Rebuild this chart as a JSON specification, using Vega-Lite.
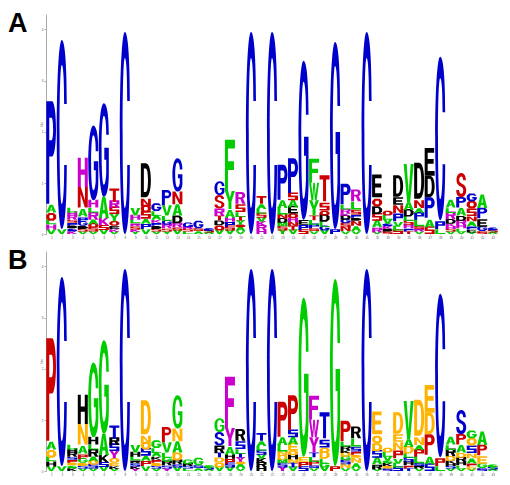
{"$schema":"https://vega.github.io/schema/vega-lite/v6.json","padding":{"left":8,"top":10,"right":0,"bottom":0},"background":"white","spacing":8,
"resolve":{"scale":{"color":"independent"}},
"data":{"values":[
{"p":1,"l":"V","b":0.09},{"p":1,"l":"H","b":0.1},{"p":1,"l":"L","b":0.07},{"p":1,"l":"Q","b":0.16},{"p":1,"l":"A","b":0.17},{"p":1,"l":"P","b":2},
{"p":2,"l":"V","b":0.1},{"p":2,"l":"C","b":3.69},
{"p":3,"l":"K","b":0.05},{"p":3,"l":"G","b":0.06},{"p":3,"l":"D","b":0.05},{"p":3,"l":"P","b":0.06},{"p":3,"l":"S","b":0.06},{"p":3,"l":"R","b":0.07},{"p":3,"l":"H","b":0.07},{"p":3,"l":"L","b":0.09},
{"p":4,"l":"V","b":0.05},{"p":4,"l":"S","b":0.05},{"p":4,"l":"D","b":0.06},{"p":4,"l":"G","b":0.07},{"p":4,"l":"P","b":0.11},{"p":4,"l":"A","b":0.18},{"p":4,"l":"N","b":0.4},{"p":4,"l":"H","b":0.57},
{"p":5,"l":"V","b":0.05},{"p":5,"l":"S","b":0.07},{"p":5,"l":"Q","b":0.07},{"p":5,"l":"A","b":0.09},{"p":5,"l":"R","b":0.14},{"p":5,"l":"L","b":0.1},{"p":5,"l":"H","b":0.14},{"p":5,"l":"G","b":1.46},
{"p":6,"l":"V","b":0.08},{"p":6,"l":"S","b":0.09},{"p":6,"l":"K","b":0.14},{"p":6,"l":"A","b":0.42},{"p":6,"l":"G","b":1.82},
{"p":7,"l":"V","b":0.04},{"p":7,"l":"K","b":0.06},{"p":7,"l":"E","b":0.06},{"p":7,"l":"Q","b":0.09},{"p":7,"l":"Y","b":0.14},{"p":7,"l":"S","b":0.12},{"p":7,"l":"R","b":0.12},{"p":7,"l":"T","b":0.26},
{"p":8,"l":"C","b":3.95},
{"p":9,"l":"Y","b":0.04},{"p":9,"l":"K","b":0.05},{"p":9,"l":"S","b":0.06},{"p":9,"l":"R","b":0.06},{"p":9,"l":"L","b":0.07},{"p":9,"l":"H","b":0.08},{"p":9,"l":"V","b":0.12},
{"p":10,"l":"V","b":0.1},{"p":10,"l":"P","b":0.1},{"p":10,"l":"A","b":0.1},{"p":10,"l":"S","b":0.12},{"p":10,"l":"Q","b":0.12},{"p":10,"l":"N","b":0.18},{"p":10,"l":"D","b":0.66},
{"p":11,"l":"V","b":0.05},{"p":11,"l":"S","b":0.05},{"p":11,"l":"D","b":0.06},{"p":11,"l":"P","b":0.06},{"p":11,"l":"K","b":0.06},{"p":11,"l":"A","b":0.07},{"p":11,"l":"L","b":0.1},{"p":11,"l":"G","b":0.14},
{"p":12,"l":"Y","b":0.05},{"p":12,"l":"S","b":0.06},{"p":12,"l":"R","b":0.07},{"p":12,"l":"G","b":0.08},{"p":12,"l":"L","b":0.1},{"p":12,"l":"V","b":0.2},{"p":12,"l":"P","b":0.3},
{"p":13,"l":"V","b":0.07},{"p":13,"l":"S","b":0.06},{"p":13,"l":"R","b":0.08},{"p":13,"l":"D","b":0.15},{"p":13,"l":"A","b":0.22},{"p":13,"l":"N","b":0.25},{"p":13,"l":"G","b":0.65},
{"p":14,"l":"L","b":0.05},{"p":14,"l":"S","b":0.05},{"p":14,"l":"R","b":0.03},{"p":14,"l":"G","b":0.1},
{"p":15,"l":"A","b":0.06},{"p":15,"l":"S","b":0.05},{"p":15,"l":"G","b":0.12},
{"p":16,"l":"A","b":0.03},{"p":16,"l":"S","b":0.03},{"p":16,"l":"G","b":0.04},
{"p":17,"l":"V","b":0.07},{"p":17,"l":"Q","b":0.1},{"p":17,"l":"D","b":0.1},{"p":17,"l":"T","b":0.08},{"p":17,"l":"R","b":0.15},{"p":17,"l":"S","b":0.26},{"p":17,"l":"G","b":0.27},
{"p":18,"l":"V","b":0.07},{"p":18,"l":"S","b":0.07},{"p":18,"l":"P","b":0.1},{"p":18,"l":"H","b":0.08},{"p":18,"l":"A","b":0.17},{"p":18,"l":"Y","b":0.35},{"p":18,"l":"F","b":1},
{"p":19,"l":"V","b":0.06},{"p":19,"l":"A","b":0.07},{"p":19,"l":"Q","b":0.05},{"p":19,"l":"Y","b":0.08},{"p":19,"l":"T","b":0.07},{"p":19,"l":"L","b":0.1},{"p":19,"l":"S","b":0.16},{"p":19,"l":"R","b":0.23},
{"p":20,"l":"C","b":3.95},
{"p":21,"l":"H","b":0.08},{"p":21,"l":"R","b":0.08},{"p":21,"l":"K","b":0.08},{"p":21,"l":"V","b":0.08},{"p":21,"l":"S","b":0.08},{"p":21,"l":"L","b":0.09},{"p":21,"l":"A","b":0.1},{"p":21,"l":"T","b":0.16},
{"p":22,"l":"C","b":3.95},
{"p":23,"l":"Y","b":0.07},{"p":23,"l":"S","b":0.08},{"p":23,"l":"M","b":0.07},{"p":23,"l":"D","b":0.08},{"p":23,"l":"N","b":0.08},{"p":23,"l":"L","b":0.13},{"p":23,"l":"A","b":0.16},{"p":23,"l":"P","b":0.68},
{"p":24,"l":"V","b":0.07},{"p":24,"l":"T","b":0.08},{"p":24,"l":"N","b":0.08},{"p":24,"l":"H","b":0.08},{"p":24,"l":"Q","b":0.09},{"p":24,"l":"E","b":0.12},{"p":24,"l":"A","b":0.14},{"p":24,"l":"S","b":0.14},{"p":24,"l":"P","b":0.68},
{"p":25,"l":"S","b":0.08},{"p":25,"l":"P","b":0.1},{"p":25,"l":"E","b":0.1},{"p":25,"l":"G","b":3.1},
{"p":26,"l":"V","b":0.06},{"p":26,"l":"S","b":0.05},{"p":26,"l":"P","b":0.07},{"p":26,"l":"L","b":0.09},{"p":26,"l":"T","b":0.09},{"p":26,"l":"Y","b":0.3},{"p":26,"l":"W","b":0.34},{"p":26,"l":"F","b":0.47},
{"p":27,"l":"V","b":0.07},{"p":27,"l":"G","b":0.07},{"p":27,"l":"L","b":0.1},{"p":27,"l":"D","b":0.12},{"p":27,"l":"Q","b":0.1},{"p":27,"l":"S","b":0.18},{"p":27,"l":"T","b":0.51},
{"p":28,"l":"P","b":0.1},{"p":28,"l":"G","b":3.65},
{"p":29,"l":"V","b":0.06},{"p":29,"l":"N","b":0.07},{"p":29,"l":"S","b":0.08},{"p":29,"l":"G","b":0.07},{"p":29,"l":"D","b":0.07},{"p":29,"l":"K","b":0.05},{"p":29,"l":"R","b":0.08},{"p":29,"l":"L","b":0.1},{"p":29,"l":"P","b":0.4},
{"p":30,"l":"V","b":0.06},{"p":30,"l":"A","b":0.1},{"p":30,"l":"N","b":0.1},{"p":30,"l":"D","b":0.06},{"p":30,"l":"P","b":0.06},{"p":30,"l":"S","b":0.1},{"p":30,"l":"L","b":0.16},{"p":30,"l":"R","b":0.23},
{"p":31,"l":"C","b":3.95},
{"p":32,"l":"V","b":0.03},{"p":32,"l":"R","b":0.1},{"p":32,"l":"A","b":0.13},{"p":32,"l":"S","b":0.13},{"p":32,"l":"D","b":0.15},{"p":32,"l":"Q","b":0.18},{"p":32,"l":"E","b":0.44},
{"p":33,"l":"S","b":0.05},{"p":33,"l":"D","b":0.05},{"p":33,"l":"K","b":0.05},{"p":33,"l":"G","b":0.05},{"p":33,"l":"V","b":0.08},{"p":33,"l":"L","b":0.08},{"p":33,"l":"Q","b":0.1},
{"p":34,"l":"S","b":0.07},{"p":34,"l":"L","b":0.07},{"p":34,"l":"V","b":0.11},{"p":34,"l":"P","b":0.16},{"p":34,"l":"N","b":0.16},{"p":34,"l":"E","b":0.16},{"p":34,"l":"D","b":0.42},
{"p":35,"l":"T","b":0.05},{"p":35,"l":"P","b":0.06},{"p":35,"l":"H","b":0.07},{"p":35,"l":"S","b":0.08},{"p":35,"l":"L","b":0.08},{"p":35,"l":"D","b":0.13},{"p":35,"l":"A","b":0.15},{"p":35,"l":"V","b":0.75},
{"p":36,"l":"V","b":0.05},{"p":36,"l":"R","b":0.05},{"p":36,"l":"S","b":0.05},{"p":36,"l":"L","b":0.13},{"p":36,"l":"P","b":0.13},{"p":36,"l":"A","b":0.1},{"p":36,"l":"N","b":0.18},{"p":36,"l":"D","b":0.7},
{"p":37,"l":"S","b":0.13},{"p":37,"l":"A","b":0.19},{"p":37,"l":"P","b":0.4},{"p":37,"l":"D","b":0.42},{"p":37,"l":"E","b":0.54},
{"p":38,"l":"L","b":0.1},{"p":38,"l":"P","b":0.17},{"p":38,"l":"C","b":3.19},
{"p":39,"l":"V","b":0.05},{"p":39,"l":"S","b":0.05},{"p":39,"l":"H","b":0.05},{"p":39,"l":"K","b":0.05},{"p":39,"l":"D","b":0.09},{"p":39,"l":"R","b":0.12},{"p":39,"l":"L","b":0.11},{"p":39,"l":"A","b":0.17},
{"p":40,"l":"V","b":0.05},{"p":40,"l":"L","b":0.06},{"p":40,"l":"H","b":0.07},{"p":40,"l":"R","b":0.08},{"p":40,"l":"D","b":0.1},{"p":40,"l":"A","b":0.16},{"p":40,"l":"P","b":0.2},{"p":40,"l":"S","b":0.47},
{"p":41,"l":"V","b":0.03},{"p":41,"l":"E","b":0.06},{"p":41,"l":"P","b":0.06},{"p":41,"l":"A","b":0.1},{"p":41,"l":"N","b":0.1},{"p":41,"l":"S","b":0.15},{"p":41,"l":"Q","b":0.14},{"p":41,"l":"G","b":0.16},
{"p":42,"l":"S","b":0.06},{"p":42,"l":"G","b":0.08},{"p":42,"l":"E","b":0.17},{"p":42,"l":"P","b":0.2},{"p":42,"l":"A","b":0.26},
{"p":43,"l":"A","b":0.03},{"p":43,"l":"S","b":0.04},{"p":43,"l":"G","b":0.05}
]},
"transform":[{"stack":"b","groupby":["p"],"as":["y0","y1"]},{"calculate":"datum.b>=0.2?datum.l+datum.b:datum.l+(datum.b<0.065?'s':datum.b<0.115?'m':'l')","as":"k"}],
"vconcat":[
{"title":{"text":"A","anchor":"start","frame":"group","offset":-24,"dx":-38,"fontSize":27,"fontWeight":"bold","font":"Liberation Sans","color":"#000"},
"width":452,"height":220,
"mark":{"type":"point","filled":true,"size":4,"strokeWidth":0,"opacity":1},
"encoding":{"x":{"field":"p","type":"ordinal","title":null,"axis":{"labelFontSize":3,"labelAngle":0,"labelColor":"#555","labelPadding":1,"tickSize":1,"tickColor":"#bbb","domain":false,"maxExtent":0,"minExtent":0}},
"y":{"field":"y0","type":"quantitative","scale":{"domain":[0,4.3],"nice":false},"title":"bits","axis":{"values":[0,1,2,3,4],"labelFontSize":3,"labelColor":"#555","labelPadding":1,"tickSize":2,"tickColor":"#aaa","domainColor":"#aaa","domainWidth":1,"grid":false,"titleFontSize":3,"titleFontWeight":"normal","titleColor":"#555","titlePadding":3,"maxExtent":0,"minExtent":0}},
"color":{"field":"l","type":"nominal","legend":null,"scale":{"domain":["A","C","D","E","F","G","H","K","L","M","N","P","Q","R","S","T","V","W","Y"],"range":["#00CC00","#0000CC","#000000","#000000","#00CC00","#0000CC","#CC00CC","#CC00CC","#00CC00","#00CC00","#CC0000","#0000CC","#CC0000","#CC00CC","#CC0000","#CC0000","#00CC00","#00CC00","#00CC00"]}},
"shape":{"field":"k","type":"nominal","legend":null,"scale":{"domain":["C3.69","C3.95","C3.19","P2","P0.3","P0.68","P0.4","P0.2","H0.57","N0.4","N0.25","G1.46","G1.82","G0.65","G0.27","G3.1","G3.65","A0.42","A0.22","A0.26","T0.26","T0.51","D0.66","D0.42","D0.7","V0.2","V0.75","F1","F0.47","S0.26","S0.47","Y0.35","Y0.3","R0.23","W0.34","E0.44","E0.54","Vs","Vm","Vl","Hs","Hm","Hl","Ls","Lm","Ll","Qs","Qm","Ql","As","Am","Al","Ks","Km","Kl","Gs","Gm","Gl","Ds","Dm","Dl","Ps","Pm","Pl","Ss","Sm","Sl","Rs","Rm","Rl","Ns","Nm","Nl","Ts","Tm","Tl","Ys","Ym","Yl","Es","Em","El","Ms","Mm","Ml"]}}}},
{"title":{"text":"B","anchor":"start","frame":"group","offset":-24,"dx":-38,"fontSize":27,"fontWeight":"bold","font":"Liberation Sans","color":"#000"},
"width":452,"height":220,
"mark":{"type":"point","filled":true,"size":4,"strokeWidth":0,"opacity":1},
"encoding":{"x":{"field":"p","type":"ordinal","title":null,"axis":{"labelFontSize":3,"labelAngle":0,"labelColor":"#555","labelPadding":1,"tickSize":1,"tickColor":"#bbb","domain":false,"maxExtent":0,"minExtent":0}},
"y":{"field":"y0","type":"quantitative","scale":{"domain":[0,4.3],"nice":false},"title":"bits","axis":{"values":[0,1,2,3,4],"labelFontSize":3,"labelColor":"#555","labelPadding":1,"tickSize":2,"tickColor":"#aaa","domainColor":"#aaa","domainWidth":1,"grid":false,"titleFontSize":3,"titleFontWeight":"normal","titleColor":"#555","titlePadding":3,"maxExtent":0,"minExtent":0}},
"color":{"field":"l","type":"nominal","legend":null,"scale":{"domain":["A","C","D","E","F","G","H","K","L","M","N","P","Q","R","S","T","V","W","Y"],"range":["#00CC00","#0000CC","#FFB300","#FFB300","#CC00CC","#00CC00","#000000","#000000","#00CC00","#00CC00","#FFB300","#CC0000","#FFB300","#000000","#0000CC","#0000CC","#00CC00","#CC00CC","#CC00CC"]}},
"shape":{"field":"k","type":"nominal","legend":null,"scale":{"domain":["C3.69","C3.95","C3.19","P2","P0.3","P0.68","P0.4","P0.2","H0.57","N0.4","N0.25","G1.46","G1.82","G0.65","G0.27","G3.1","G3.65","A0.42","A0.22","A0.26","T0.26","T0.51","D0.66","D0.42","D0.7","V0.2","V0.75","F1","F0.47","S0.26","S0.47","Y0.35","Y0.3","R0.23","W0.34","E0.44","E0.54","Vs","Vm","Vl","Hs","Hm","Hl","Ls","Lm","Ll","Qs","Qm","Ql","As","Am","Al","Ks","Km","Kl","Gs","Gm","Gl","Ds","Dm","Dl","Ps","Pm","Pl","Ss","Sm","Sl","Rs","Rm","Rl","Ns","Nm","Nl","Ts","Tm","Tl","Ys","Ym","Yl","Es","Em","El","Ms","Mm","Ml"]}}}}
],
"config":{"view":{"stroke":null},"range":{"symbol":[
"M5 -125C5 -166 3 -189 0 -189C-3 -189 -5 -147 -5 -94.5C-5 -42 -3 0 0 0C3 0 5 -23 5 -64L2.4 -64C2.4 -38 1.4 -25 0 -25C-1.4 -25 -2.2 -53 -2.2 -94.5C-2.2 -136 -1.4 -164 0 -164C1.4 -164 2.4 -151 2.4 -125Z",
"M5 -133C5 -178 3 -202 0 -202C-3 -202 -5 -158 -5 -101C-5 -44 -3 0 0 0C3 0 5 -24 5 -69L2.4 -69C2.4 -40 1.4 -26 0 -26C-1.4 -26 -2.2 -57 -2.2 -101C-2.2 -145 -1.4 -176 0 -176C1.4 -176 2.4 -162 2.4 -133Z",
"M5 -108C5 -144 3 -163.5 0 -163.5C-3 -163.5 -5 -128 -5 -82C-5 -36 -3 0 0 0C3 0 5 -20 5 -56L2.4 -56C2.4 -33 1.4 -21 0 -21C-1.4 -21 -2.2 -46 -2.2 -82C-2.2 -118 -1.4 -142 0 -142C1.4 -142 2.4 -131 2.4 -108Z",
"M-5 0L-5 -102.5L1 -102.5A4 27.7 0 0 1 1 -47.2L-2 -47.2L-2 0ZM-2 -86.1L-2 -63.6L0.5 -63.6A1.5 11.3 0 0 0 0.5 -86.1Z",
"M-5 0L-5 -15.4L1 -15.4A4 4.2 0 0 1 1 -7.1L-2 -7.1L-2 0ZM-2 -12.9L-2 -9.5L0.5 -9.5A1.5 1.7 0 0 0 0.5 -12.9Z",
"M-5 0L-5 -34.9L1 -34.9A4 9.4 0 0 1 1 -16.1L-2 -16.1L-2 0ZM-2 -29.3L-2 -21.6L0.5 -21.6A1.5 3.8 0 0 0 0.5 -29.3Z",
"M-5 0L-5 -20.5L1 -20.5A4 5.5 0 0 1 1 -9.4L-2 -9.4L-2 0ZM-2 -17.2L-2 -12.7L0.5 -12.7A1.5 2.3 0 0 0 0.5 -17.2Z",
"M-5 0L-5 -10.3L1 -10.3A4 2.8 0 0 1 1 -4.7L-2 -4.7L-2 0ZM-2 -8.7L-2 -6.4L0.5 -6.4A1.5 1.1 0 0 0 0.5 -8.7Z",
"M-5 0L-5 -29.2L-2 -29.2L-2 -17.5L2 -17.5L2 -29.2L5 -29.2L5 0L2 0L2 -12.3L-2 -12.3L-2 0Z",
"M-5 0L-5 -20.5L-2 -20.5L2.2 -7.2L2.2 -20.5L5 -20.5L5 0L2 0L-2.2 -13.3L-2.2 0Z",
"M-5 0L-5 -12.8L-2 -12.8L2.2 -4.5L2.2 -12.8L5 -12.8L5 0L2 0L-2.2 -8.3L-2.2 0Z",
"M5 -49C5 -66 3 -74.8 0 -74.8C-3 -74.8 -5 -58 -5 -37C-5 -16 -3 0 0 0C3 0 5 -7.5 5 -19L5 -39L0.5 -39L0.5 -30L2.4 -30L2.4 -19C1.8 -12 1 -10 0 -10C-1.4 -10 -2.2 -21 -2.2 -37C-2.2 -54 -1.4 -65 0 -65C1.4 -65 2.4 -60 2.4 -49Z",
"M5 -62C5 -82 3 -93.3 0 -93.3C-3 -93.3 -5 -73 -5 -47C-5 -21 -3 0 0 0C3 0 5 -9 5 -23L5 -49L0.5 -49L0.5 -37L2.4 -37L2.4 -23C1.8 -15 1 -12 0 -12C-1.4 -12 -2.2 -26 -2.2 -47C-2.2 -67 -1.4 -81 0 -81C1.4 -81 2.4 -75 2.4 -62Z",
"M5 -22C5 -29 3 -33.3 0 -33.3C-3 -33.3 -5 -26 -5 -17C-5 -7.3 -3 0 0 0C3 0 5 -3.3 5 -8.3L5 -17.3L0.5 -17.3L0.5 -13.3L2.4 -13.3L2.4 -8.3C1.8 -5.3 1 -4.3 0 -4.3C-1.4 -4.3 -2.2 -9.3 -2.2 -17C-2.2 -24 -1.4 -29 0 -29C1.4 -29 2.4 -26.6 2.4 -22Z",
"M5 -9.1C5 -12.1 3 -13.8 0 -13.8C-3 -13.8 -5 -10.8 -5 -6.9C-5 -3 -3 0 0 0C3 0 5 -1.4 5 -3.5L5 -7.2L0.5 -7.2L0.5 -5.5L2.4 -5.5L2.4 -3.5C1.8 -2.2 1 -1.8 0 -1.8C-1.4 -1.8 -2.2 -3.9 -2.2 -6.9C-2.2 -9.9 -1.4 -12 0 -12C1.4 -12 2.4 -11 2.4 -9.1Z",
"M5 -105C5 -140 3 -158.9 0 -158.9C-3 -158.9 -5 -124 -5 -79C-5 -35 -3 0 0 0C3 0 5 -16 5 -40L5 -83L0.5 -83L0.5 -64L2.4 -64L2.4 -40C1.8 -25 1 -21 0 -21C-1.4 -21 -2.2 -44 -2.2 -79C-2.2 -114 -1.4 -138 0 -138C1.4 -138 2.4 -127 2.4 -105Z",
"M5 -123C5 -165 3 -187 0 -187C-3 -187 -5 -146 -5 -94C-5 -41 -3 0 0 0C3 0 5 -19 5 -47L5 -97L0.5 -97L0.5 -75L2.4 -75L2.4 -47C1.8 -30 1 -24 0 -24C-1.4 -24 -2.2 -52 -2.2 -94C-2.2 -135 -1.4 -163 0 -163C1.4 -163 2.4 -150 2.4 -123Z",
"M-5 0L-1.6 -21.5L1.6 -21.5L5 0L2 0L1.3 -4.7L-1.3 -4.7L-2 0ZM0 -16.8L-0.8 -8.2L0.8 -8.2Z",
"M-5 0L-1.6 -11.3L1.6 -11.3L5 0L2 0L1.3 -2.5L-1.3 -2.5L-2 0ZM0 -8.8L-0.8 -4.3L0.8 -4.3Z",
"M-5 0L-1.6 -13.3L1.6 -13.3L5 0L2 0L1.3 -2.9L-1.3 -2.9L-2 0ZM0 -10.4L-0.8 -5.1L0.8 -5.1Z",
"M-1.5 0L-1.5 -11L-5 -11L-5 -13.3L5 -13.3L5 -11L1.5 -11L1.5 0Z",
"M-1.5 0L-1.5 -21.7L-5 -21.7L-5 -26.1L5 -26.1L5 -21.7L1.5 -21.7L1.5 0Z",
"M-5 0L-5 -33.8L0 -33.8C3.5 -33.8 5 -25.4 5 -16.9C5 -8.5 3.5 0 0 0ZM-2 -28.7L-2 -5.1L-0.2 -5.1C1.4 -5.1 2.1 -10.1 2.1 -16.9C2.1 -23.7 1.4 -28.7 -0.2 -28.7Z",
"M-5 0L-5 -21.5L0 -21.5C3.5 -21.5 5 -16.1 5 -10.8C5 -5.4 3.5 0 0 0ZM-2 -18.3L-2 -3.2L-0.2 -3.2C1.4 -3.2 2.1 -6.5 2.1 -10.8C2.1 -15.1 1.4 -18.3 -0.2 -18.3Z",
"M-5 0L-5 -35.9L0 -35.9C3.5 -35.9 5 -27 5 -18C5 -9 3.5 0 0 0ZM-2 -30.5L-2 -5.4L-0.2 -5.4C1.4 -5.4 2.1 -10.8 2.1 -18C2.1 -25.1 1.4 -30.5 -0.2 -30.5Z",
"M-1.5 0L-5 -10.3L-2 -10.3L0 -2.6L2 -10.3L5 -10.3L1.5 0Z",
"M-1.5 0L-5 -38.4L-2 -38.4L0 -9.6L2 -38.4L5 -38.4L1.5 0Z",
"M-5 0L-5 -51.25L5 -51.25L5 -42.5L-2 -42.5L-2 -29.7L4 -29.7L4 -21L-2 -21L-2 0Z",
"M-5 0L-5 -24.1L5 -24.1L5 -20L-2 -20L-2 -14L4 -14L4 -9.9L-2 -9.9L-2 0Z",
"M4.7 -9.3C4.7 -12 2.5 -13.3 0 -13.3C-3 -13.3 -4.7 -11.6 -4.7 -9.6C-4.7 -7.3 -3 -6.5 0 -5.7C1.5 -5.3 2 -4.8 2 -3.7C2 -2.4 1 -1.9 0 -1.9C-1.2 -1.9 -2 -2.7 -2.1 -4L-5 -4C-5 -1.3 -3 0 0 0C3 0 5 -1.6 5 -3.9C5 -6.1 3 -6.9 0 -7.7C-1.4 -8.1 -2 -8.5 -2 -9.6C-2 -10.8 -1 -11.4 0 -11.4C1.2 -11.4 1.9 -10.6 2 -9.3Z",
"M4.7 -16.9C4.7 -21.7 2.5 -24.1 0 -24.1C-3 -24.1 -4.7 -21 -4.7 -17.4C-4.7 -13.3 -3 -11.8 0 -10.4C1.5 -9.6 2 -8.7 2 -6.7C2 -4.3 1 -3.4 0 -3.4C-1.2 -3.4 -2 -4.8 -2.1 -7.2L-5 -7.2C-5 -2.4 -3 0 0 0C3 0 5 -2.9 5 -7C5 -11.1 3 -12.5 0 -14C-1.4 -14.7 -2 -15.4 -2 -17.4C-2 -19.5 -1 -20.7 0 -20.7C1.2 -20.7 1.9 -19.3 2 -16.9Z",
"M-1.5 0L-1.5 -7.5L-5 -17.9L-1.8 -17.9L0 -11.1L1.8 -17.9L5 -17.9L1.5 -7.5L1.5 0Z",
"M-1.5 0L-1.5 -6.5L-5 -15.4L-1.8 -15.4L0 -9.5L1.8 -15.4L5 -15.4L1.5 -6.5L1.5 0Z",
"M-5 0L-5 -11.8L1 -11.8C3.5 -11.8 4.7 -10 4.7 -8.3C4.7 -6.5 3.5 -5.5 2.5 -5.2L5 0L1.8 0L-0.2 -4.7L-2 -4.7L-2 0ZM-2 -9.9L-2 -6.6L0.5 -6.6C1.4 -6.6 1.8 -7.3 1.8 -8.3C1.8 -9.2 1.4 -9.9 0.5 -9.9Z",
"M-2.6 0L-5 -17.4L-3 -17.4L-1.5 -5.2L-0.8 -17.4L0.8 -17.4L1.5 -5.2L3 -17.4L5 -17.4L2.6 0L0.8 0L0 -12.2L-0.8 0Z",
"M-5 0L-5 -22.6L4.5 -22.6L4.5 -18.8L-2 -18.8L-2 -13.6L4 -13.6L4 -9.7L-2 -9.7L-2 -3.8L5 -3.8L5 0Z",
"M-5 0L-5 -27.7L4.5 -27.7L4.5 -23L-2 -23L-2 -16.6L4 -16.6L4 -11.9L-2 -11.9L-2 -4.7L5 -4.7L5 0Z",
"M-1.5 0L-5 -2.8L-2 -2.8L0 -0.84L2 -2.8L5 -2.8L1.5 0Z",
"M-1.5 0L-5 -4.8L-2 -4.8L0 -1.44L2 -4.8L5 -4.8L1.5 0Z",
"M-1.5 0L-5 -7.7L-2 -7.7L0 -2.3L2 -7.7L5 -7.7L1.5 0Z",
"M-5 0L-5 -2.8L-2 -2.8L-2 -1.68L2 -1.68L2 -2.8L5 -2.8L5 0L2 0L2 -1.12L-2 -1.12L-2 0Z",
"M-5 0L-5 -4.8L-2 -4.8L-2 -2.88L2 -2.88L2 -4.8L5 -4.8L5 0L2 0L2 -1.92L-2 -1.92L-2 0Z",
"M-5 0L-5 -7.7L-2 -7.7L-2 -4.62L2 -4.62L2 -7.7L5 -7.7L5 0L2 0L2 -3.08L-2 -3.08L-2 0Z",
"M-5 0L-5 -2.8L-2 -2.8L-2 -0.56L5 -0.56L5 0Z",
"M-5 0L-5 -4.8L-2 -4.8L-2 -0.96L5 -0.96L5 0Z",
"M-5 0L-5 -7.7L-2 -7.7L-2 -1.54L5 -1.54L5 0Z",
"M-2.5 -2.8L2.5 -2.8L5 -1.96L5 -0.84L2.5 0L-2.5 0L-5 -0.84L-5 -1.96Z",
"M-2.5 -4.8L2.5 -4.8L5 -3.36L5 -1.44L2.5 0L-2.5 0L-5 -1.44L-5 -3.36ZM-1.5 -3.5L-2 -2.4L-1.5 -1.3L1.5 -1.3L2 -2.4L1.5 -3.5Z",
"M-2.5 -7.7L2.5 -7.7L5 -5.4L5 -2.3L2.5 0L-2.5 0L-5 -2.3L-5 -5.4ZM-1.5 -5.6L-2 -3.85L-1.5 -2.1L1.5 -2.1L2 -3.85L1.5 -5.6Z",
"M-5 0L-1.6 -2.8L1.6 -2.8L5 0L2 0L1.3 -0.7L-1.3 -0.7L-2 0Z",
"M-5 0L-1.6 -4.8L1.6 -4.8L5 0L2 0L1.3 -1.2L-1.3 -1.2L-2 0Z",
"M-5 0L-1.6 -7.7L1.6 -7.7L5 0L2 0L1.3 -1.9L-1.3 -1.9L-2 0ZM0 -6L-0.8 -3.1L0.8 -3.1Z",
"M-5 0L-5 -2.8L-2 -2.8L-2 -1.68L2 -2.8L5 -2.8L0.5 -1.54L5 0L2 0L-2 -1.12L-2 0Z",
"M-5 0L-5 -4.8L-2 -4.8L-2 -2.88L2 -4.8L5 -4.8L0.5 -2.64L5 0L2 0L-2 -1.92L-2 0Z",
"M-5 0L-5 -7.7L-2 -7.7L-2 -4.62L2 -7.7L5 -7.7L0.5 -4.2L5 0L2 0L-2 -3.08L-2 0Z",
"M5 -1.96L2.5 -2.8L-2.5 -2.8L-5 -1.96L-5 -0.84L-2.5 0L2.5 0L5 -0.84L5 -1.5L0.5 -1.5L0.5 -1.96Z",
"M5 -3.36L2.5 -4.8L-2.5 -4.8L-5 -3.36L-5 -1.44L-2.5 0L2.5 0L5 -1.44L5 -2.64L0.5 -2.64L0.5 -1.68L2 -1.68L2 -1.06L-1.5 -1.06L-2 -1.68L-2 -3.12L-1.5 -3.74L2 -3.74L2.4 -3.36Z",
"M5 -5.4L2.5 -7.7L-2.5 -7.7L-5 -5.4L-5 -2.3L-2.5 0L2.5 0L5 -2.3L5 -4.2L0.5 -4.2L0.5 -2.7L2 -2.7L2 -1.7L-1.5 -1.7L-2 -2.7L-2 -5L-1.5 -6L2 -6L2.4 -5.4Z",
"M-5 0L-5 -2.8L2 -2.8L5 -1.96L5 -0.84L2 0Z",
"M-5 0L-5 -4.8L2 -4.8L5 -3.36L5 -1.44L2 0ZM-2 -3.74L-2 -1.06L1 -1.06L2 -1.92L2 -2.88L1 -3.74Z",
"M-5 0L-5 -7.7L2 -7.7L5 -5.4L5 -2.3L2 0ZM-2 -6L-2 -1.7L1 -1.7L2 -3.08L2 -4.62L1 -6Z",
"M-5 0L-5 -2.8L5 -2.8L5 -1.12L-2 -1.12L-2 0Z",
"M-5 0L-5 -4.8L5 -4.8L5 -1.92L-2 -1.92L-2 0ZM-2 -3.84L-2 -2.88L2 -2.88L2 -3.84Z",
"M-5 0L-5 -7.7L5 -7.7L5 -3.08L-2 -3.08L-2 0ZM-2 -6.16L-2 -4.62L2 -4.62L2 -6.16Z",
"M-5 -2.8L5 -2.8L5 -2.24L-2 -2.24L-2 -1.68L5 -1.68L5 0L-5 0L-5 -0.56L2 -0.56L2 -1.12L-5 -1.12Z",
"M-5 -4.8L5 -4.8L5 -3.84L-2 -3.84L-2 -2.88L5 -2.88L5 0L-5 0L-5 -0.96L2 -0.96L2 -1.92L-5 -1.92Z",
"M-5 -7.7L5 -7.7L5 -6.16L-2 -6.16L-2 -4.62L5 -4.62L5 0L-5 0L-5 -1.54L2 -1.54L2 -3.08L-5 -3.08Z",
"M-5 0L-5 -2.8L5 -2.8L5 -1.26L3 -1.26L5 0L2 0L0 -1.18L-2 -1.18L-2 0Z",
"M-5 0L-5 -4.8L5 -4.8L5 -2.16L3 -2.16L5 0L2 0L0 -2L-2 -2L-2 0ZM-2 -3.84L-2 -2.88L2 -2.88L2 -3.84Z",
"M-5 0L-5 -7.7L5 -7.7L5 -3.5L3 -3.5L5 0L2 0L0 -3.2L-2 -3.2L-2 0ZM-2 -6.16L-2 -4.62L2 -4.62L2 -6.16Z",
"M-5 0L-5 -2.8L-2 -2.8L2.2 -0.98L2.2 -2.8L5 -2.8L5 0L2 0L-2.2 -1.82L-2.2 0Z",
"M-5 0L-5 -4.8L-2 -4.8L2.2 -1.68L2.2 -4.8L5 -4.8L5 0L2 0L-2.2 -3.12L-2.2 0Z",
"M-5 0L-5 -7.7L-2 -7.7L2.2 -2.7L2.2 -7.7L5 -7.7L5 0L2 0L-2.2 -5L-2.2 0Z",
"M-1.5 0L-1.5 -2.24L-5 -2.24L-5 -2.8L5 -2.8L5 -2.24L1.5 -2.24L1.5 0Z",
"M-1.5 0L-1.5 -3.84L-5 -3.84L-5 -4.8L5 -4.8L5 -3.84L1.5 -3.84L1.5 0Z",
"M-1.5 0L-1.5 -6.16L-5 -6.16L-5 -7.7L5 -7.7L5 -6.16L1.5 -6.16L1.5 0Z",
"M-1.5 0L-1.5 -1.12L-5 -2.8L-2 -2.8L0 -1.68L2 -2.8L5 -2.8L1.5 -1.12L1.5 0Z",
"M-1.5 0L-1.5 -1.92L-5 -4.8L-2 -4.8L0 -2.88L2 -4.8L5 -4.8L1.5 -1.92L1.5 0Z",
"M-1.5 0L-1.5 -3.08L-5 -7.7L-2 -7.7L0 -4.62L2 -7.7L5 -7.7L1.5 -3.08L1.5 0Z",
"M-5 0L-5 -2.8L5 -2.8L5 -2.24L-2 -2.24L-2 -1.68L4 -1.68L4 -1.12L-2 -1.12L-2 -0.56L5 -0.56L5 0Z",
"M-5 0L-5 -4.8L5 -4.8L5 -3.84L-2 -3.84L-2 -2.88L4 -2.88L4 -1.92L-2 -1.92L-2 -0.96L5 -0.96L5 0Z",
"M-5 0L-5 -7.7L5 -7.7L5 -6.16L-2 -6.16L-2 -4.62L4 -4.62L4 -3.08L-2 -3.08L-2 -1.54L5 -1.54L5 0Z",
"M-5 0L-5 -2.8L-2 -2.8L0 -1.12L2 -2.8L5 -2.8L5 0L2.5 0L2.5 -1.68L1 0L-1 0L-2.5 -1.68L-2.5 0Z",
"M-5 0L-5 -4.8L-2 -4.8L0 -1.92L2 -4.8L5 -4.8L5 0L2.5 0L2.5 -2.88L1 0L-1 0L-2.5 -2.88L-2.5 0Z",
"M-5 0L-5 -7.7L-2 -7.7L0 -3.08L2 -7.7L5 -7.7L5 0L2.5 0L2.5 -4.62L1 0L-1 0L-2.5 -4.62L-2.5 0Z"
]}}}
